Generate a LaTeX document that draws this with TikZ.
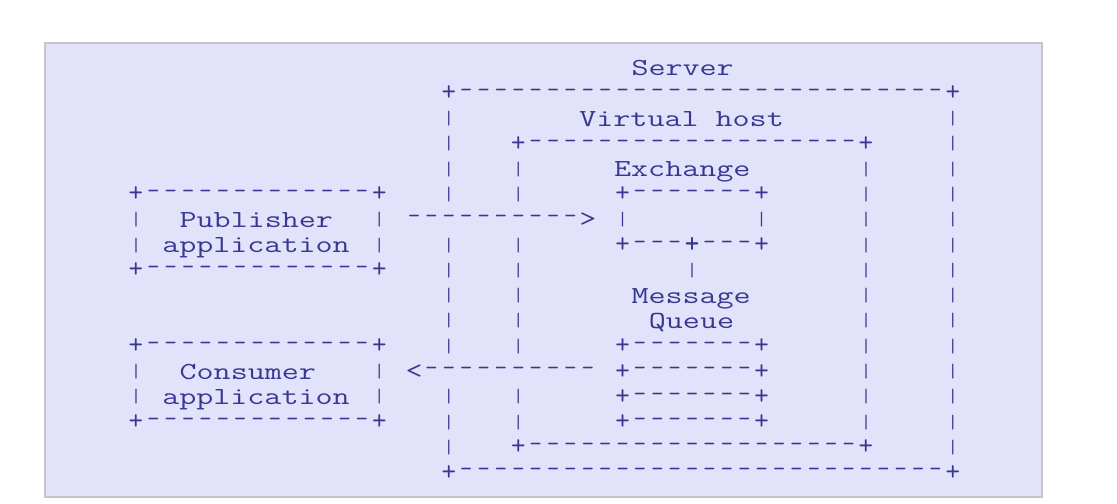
\documentclass[tikz,border=0pt]{standalone}
\usepackage{fontspec}
\usepackage{graphicx}
\definecolor{slidebg}{RGB}{226,226,250}
\definecolor{slideedge}{RGB}{196,196,206}
\definecolor{asciiink}{RGB}{56,56,146}
\newcommand{\asciifont}{\ttfamily\fontsize{24.5pt}{26pt}\selectfont}
% typewriter glyphs widened to the cell of the ascii art
\newcommand{\wide}[1]{\scalebox{1.35}[1]{#1}}
\newcommand{\asciibar}{\resizebox*{!}{15pt}{|}}
\newcommand{\asciicorner}{\scalebox{1.15}{+}}

\tikzset{
  glyph/.style={anchor=center, inner sep=0pt, text=asciiink, font=\asciifont},
  word/.style={glyph, anchor=base west, yshift=-7.5pt}
}

% one ascii edge +-----+ on row #1, from column #2 to column #3
\newcommand{\asciihline}[3]{%
  \node[glyph] at (#2,#1) {\asciicorner};
  \node[glyph] at (#3,#1) {\asciicorner};
  \pgfmathtruncatemacro{\dashfrom}{#2+1}
  \pgfmathtruncatemacro{\dashto}{#3-1}
  \foreach \c in {\dashfrom,...,\dashto} \node[glyph] at (\c,#1) {-};
}

\begin{document}
% one unit = one character cell of the ascii art
\begin{tikzpicture}[x=17.38pt, y=-25.3pt]
  \fill[white] (-7.825,-2.688) rectangle (56.444,17.194);
  \useasboundingbox (-7.825,-2.688) rectangle (56.444,17.194);
  \filldraw[fill=slidebg, draw=slideedge, line width=1.2pt] (-5.236,-0.988) rectangle (52.129,16.957);

  % server
  \node[word] (server) at (28.5,0) {\wide{Server}};
  \asciihline{1}{18}{47}
  \asciihline{16}{18}{47}
  \foreach \r in {2,3,4,5,7,8,9,10,11,13,14,15} \node[glyph] (sl\r) at (18,\r) {\asciibar};
  \foreach \r in {2,...,15} \node[glyph] (sr\r) at (47,\r) {\asciibar};

  % virtual host
  \node[word] (vhost) at (25.5,2) {\wide{Virtual host}};
  \asciihline{3}{22}{42}
  \asciihline{15}{22}{42}
  \foreach \r in {4,5,7,8,9,10,11,13,14} \node[glyph] (vl\r) at (22,\r) {\asciibar};
  \foreach \r in {4,...,14} \node[glyph] (vr\r) at (42,\r) {\asciibar};

  % exchange
  \node[word] (exchange) at (27.5,4) {\wide{Exchange}};
  \asciihline{5}{28}{36}
  \node[glyph] (exl) at (28,6) {\asciibar};
  \node[glyph] (exr) at (36,6) {\asciibar};
  \asciihline{7}{28}{32}
  \asciihline{7}{32}{36}
  \node[glyph] (bind) at (32,8) {\asciibar};

  % message queue
  \node[word] (message) at (28.5,9) {\wide{Message}};
  \node[word] (queue) at (29.5,10) {\wide{Queue}};
  \foreach \r in {11,...,14} {\asciihline{\r}{28}{36}}

  % publisher application
  \asciihline{5}{0}{14}
  \asciihline{8}{0}{14}
  \foreach \r in {6,7} {
    \node[glyph] (pl\r) at (0,\r) {\asciibar};
    \node[glyph] (pr\r) at (14,\r) {\asciibar};
  }
  \node[word] (publisher) at (2.5,6) {\wide{Publisher}};
  \node[word] (pubapp) at (1.5,7) {\wide{application}};

  % consumer application
  \asciihline{11}{0}{14}
  \asciihline{14}{0}{14}
  \foreach \r in {12,13} {
    \node[glyph] (cl\r) at (0,\r) {\asciibar};
    \node[glyph] (cr\r) at (14,\r) {\asciibar};
  }
  \node[word] (consumer) at (2.5,12) {\wide{Consumer}};
  \node[word] (conapp) at (1.5,13) {\wide{application}};

  % publish and consume arrows
  \foreach \c in {16,...,25} \node[glyph] at (\c,6) {-};
  \node[glyph] (pubtip) at (26,6) {\wide{>}};
  \node[glyph] (contip) at (16,12) {\wide{<}};
  \foreach \c in {17,...,26} \node[glyph] at (\c,12) {-};
\end{tikzpicture}
\end{document}
